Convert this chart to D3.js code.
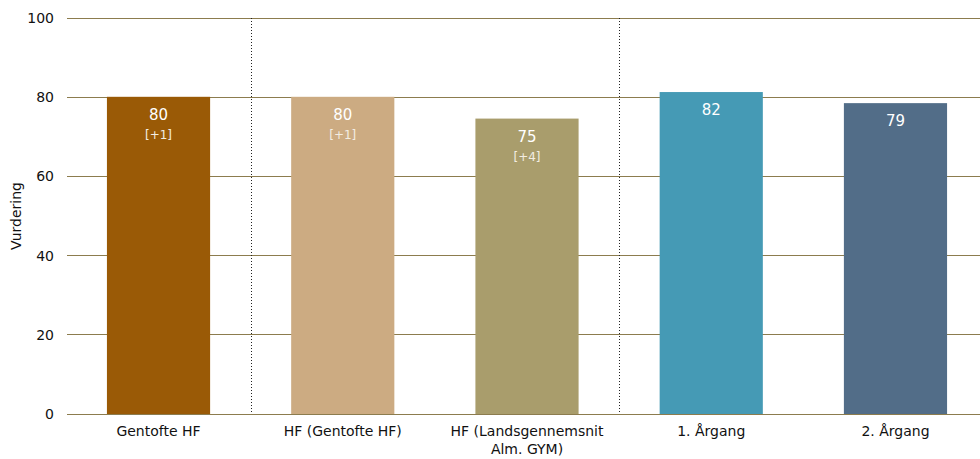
<!DOCTYPE html>
<html><head><meta charset="utf-8">
<script src="https://cdn.jsdelivr.net/npm/d3@7"></script>
<style>body{margin:0;background:#fff}svg{display:block}text{font-family:"DejaVu Sans",sans-serif}</style>
</head><body>
<svg id="c" width="980" height="459"></svg>
<script>
const categories = ["Gentofte HF", "HF (Gentofte HF)", "HF (Landsgennemsnit|Alm. GYM)", "1. Årgang", "2. Årgang"];
const values = [80.1, 80.1, 74.6, 81.3, 78.5];
const valueLabels = ["80", "80", "75", "82", "79"];
const changeLabels = ["[+1]", "[+1]", "[+4]", "", ""];
const colors = ["#9A5A06", "#CCAB82", "#A99D6C", "#459AB5", "#526D88"];
const yTicks = [0, 20, 40, 60, 80, 100];
const dividersAfter = [0, 2];

const svg = d3.select("#c");
const x = d3.scaleBand().domain(categories).range([66.4, 987.6]).paddingInner(0.44).paddingOuter(0.22);
const y = d3.scaleLinear().domain([0, 100]).range([414, 18]);
const gridColor = "#8C7C4E";

svg.append("g").selectAll("line").data(yTicks).join("line")
  .attr("x1", 67).attr("x2", 980).attr("y1", d => y(d)).attr("y2", d => y(d))
  .attr("stroke", gridColor).attr("stroke-width", 1).attr("shape-rendering", "crispEdges");

svg.append("g").selectAll("text").data(yTicks).join("text")
  .attr("x", 54).attr("y", d => y(d)).attr("dy", "0.35em").attr("text-anchor", "end")
  .attr("font-size", 14).attr("fill", "#111").text(d => d);

const step = x.step();
svg.append("g").selectAll("line").data(dividersAfter).join("line")
  .attr("x1", d => Math.round(x(categories[d]) + x.bandwidth() / 2 + step / 2) + 0.5)
  .attr("x2", d => Math.round(x(categories[d]) + x.bandwidth() / 2 + step / 2) + 0.5)
  .attr("y1", y(100)).attr("y2", y(0))
  .attr("stroke", "#222").attr("stroke-width", 1).attr("stroke-dasharray", "1,2");

svg.append("g").selectAll("rect").data(categories).join("rect")
  .attr("x", d => x(d)).attr("width", x.bandwidth())
  .attr("y", (d, i) => y(values[i])).attr("height", (d, i) => y(0) - y(values[i]))
  .attr("fill", (d, i) => colors[i]);

svg.append("g").selectAll("text").data(categories).join("text")
  .attr("x", d => x(d) + x.bandwidth() / 2).attr("y", (d, i) => y(values[i]) + 23)
  .attr("text-anchor", "middle").attr("font-size", 15).attr("fill", "#fff")
  .text((d, i) => valueLabels[i]);

svg.append("g").selectAll("text").data(categories).join("text")
  .attr("x", d => x(d) + x.bandwidth() / 2).attr("y", (d, i) => y(values[i]) + 42)
  .attr("text-anchor", "middle").attr("font-size", 12).attr("fill", "#F3EDE2")
  .text((d, i) => changeLabels[i]);

const xl = svg.append("g").selectAll("text").data(categories).join("text")
  .attr("x", d => x(d) + x.bandwidth() / 2).attr("y", 436)
  .attr("text-anchor", "middle").attr("font-size", 14).attr("fill", "#111");
xl.each(function(d) {
  const parts = d.split("|");
  const t = d3.select(this);
  parts.forEach((p, k) => t.append("tspan").attr("x", t.attr("x")).attr("dy", k ? 18 : 0).text(p));
});

svg.append("text").attr("transform", "translate(21,216) rotate(-90)")
  .attr("text-anchor", "middle").attr("font-size", 14).attr("fill", "#111").text("Vurdering");
</script>
</body></html>
